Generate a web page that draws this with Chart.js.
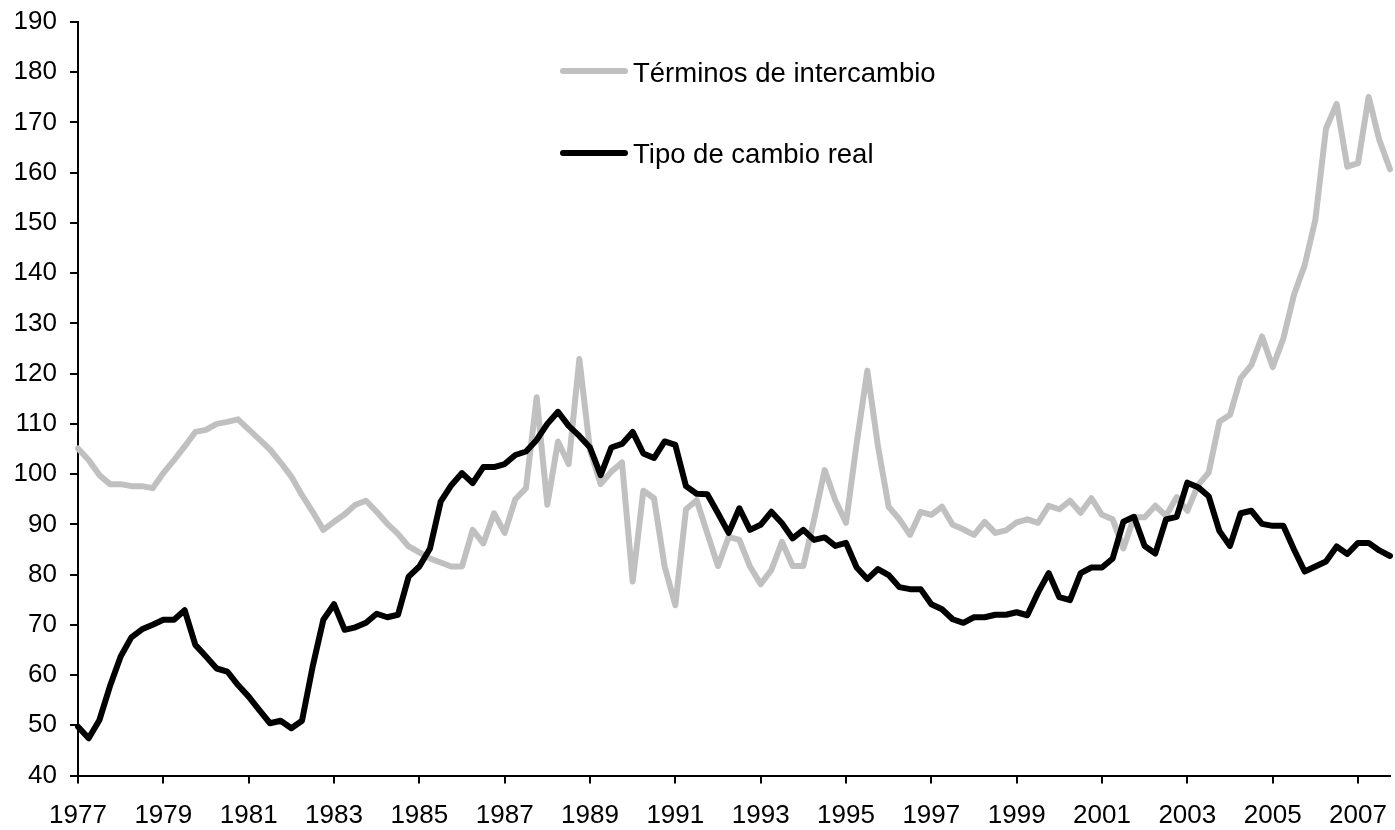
<!DOCTYPE html>
<html lang="es">
<head>
<meta charset="utf-8">
<title>Términos de intercambio y tipo de cambio real</title>
<script src="https://cdn.jsdelivr.net/npm/chart.js@4.4.1/dist/chart.umd.min.js"></script>
<style>
    html, body { margin: 0; padding: 0; background: #fff; }
    #wrap { position: relative; width: 1395px; height: 830px; }
    #chart { position: absolute; left: 0; top: 0; }
    .legend-item { position: absolute; left: 560px; height: 27px; font-family: "Liberation Sans", Arial, sans-serif; font-size: 27.5px; line-height: 27px; color: #000; white-space: nowrap; }
    .legend-line { position: absolute; left: 0; width: 68px; height: 6px; border-radius: 3px; }
    .legend-text { position: absolute; left: 73px; top: 0; }
</style>
</head>
<body>
<div id="wrap">
    <canvas id="chart" width="1395" height="830"></canvas>
    <div class="legend-item" style="top:59px"><span class="legend-line" style="background:#c0c0c0;top:9px"></span><span class="legend-text">Términos de intercambio</span></div>
    <div class="legend-item" style="top:140px"><span class="legend-line" style="background:#000;top:10px"></span><span class="legend-text">Tipo de cambio real</span></div>
</div>
<script>
/* ============================
   Datos (trimestrales 1977T1 - 2007T4)
============================ */
const START_YEAR = 1977
const QUARTERS = 124
const YEAR_LABEL_STEP = 8   // una etiqueta cada 2 años

const TERMS_OF_TRADE = [
    105.1, 102.8, 99.8, 98.0, 98.0, 97.6, 97.6, 97.2,
    100.2, 102.8, 105.5, 108.4, 108.8, 110.0, 110.4, 110.9,
    108.9, 106.9, 104.9, 102.3, 99.5, 95.8, 92.5, 88.9,
    90.5, 92.0, 93.9, 94.7, 92.5, 90.1, 88.1, 85.6,
    84.4, 83.2, 82.4, 81.6, 81.6, 88.9, 86.2, 92.2,
    88.3, 95.0, 97.2, 115.3, 93.9, 106.5, 102.0, 122.9,
    104.8, 98.0, 100.5, 102.3, 78.6, 96.7, 95.2, 81.6,
    73.9, 93.0, 94.8, 88.2, 81.7, 87.5, 86.9, 81.6,
    78.1, 80.9, 86.5, 81.7, 81.7, 90.9, 100.8, 94.8,
    90.3, 106.1, 120.6, 105.5, 93.5, 91.0, 87.9, 92.5,
    91.9, 93.5, 89.9, 89.0, 87.9, 90.5, 88.3, 88.8,
    90.4, 91.0, 90.3, 93.7, 93.0, 94.7, 92.3, 95.2,
    91.9, 91.0, 85.2, 91.4, 91.4, 93.7, 91.7, 95.4,
    92.7, 97.8, 100.3, 110.4, 111.8, 119.1, 121.7, 127.4,
    121.3, 127.0, 135.7, 141.6, 150.6, 168.8, 173.7, 161.2,
    161.9, 175.1, 166.5, 160.7
]

const REAL_EXCHANGE_RATE = [
    49.7, 47.4, 51.0, 57.8, 63.7, 67.5, 69.1, 70.0,
    71.0, 71.0, 72.9, 66.0, 63.7, 61.3, 60.7, 58.0,
    55.7, 53.0, 50.4, 50.9, 49.4, 50.9, 61.7, 71.0,
    74.1, 69.0, 69.5, 70.4, 72.2, 71.5, 72.0, 79.6,
    81.6, 85.2, 94.5, 97.8, 100.2, 98.2, 101.4, 101.4,
    102.0, 103.8, 104.5, 106.8, 110.0, 112.4, 109.6, 107.6,
    105.3, 99.8, 105.3, 106.0, 108.4, 104.1, 103.2, 106.5,
    105.8, 97.6, 96.1, 96.0, 92.2, 88.3, 93.2, 88.9,
    89.9, 92.5, 90.2, 87.2, 88.9, 86.9, 87.4, 85.7,
    86.3, 81.4, 79.1, 81.1, 79.9, 77.5, 77.1, 77.1,
    74.1, 73.1, 71.1, 70.4, 71.5, 71.5, 72.0, 72.0,
    72.5, 71.9, 76.4, 80.3, 75.5, 74.9, 80.3, 81.4,
    81.4, 83.2, 90.5, 91.5, 85.7, 84.2, 91.0, 91.5,
    98.3, 97.4, 95.6, 88.7, 85.7, 92.2, 92.7, 90.1,
    89.7, 89.7, 85.0, 80.6, 81.6, 82.6, 85.6, 84.1,
    86.3, 86.3, 84.8, 83.7
]

const Y_MIN = 40
const Y_MAX = 190
const Y_STEP = 10

// etiquetas de trimestre: "1977", "1977T2", ...
const QUARTER_LABELS = Array.from({ length: QUARTERS }, (_, i) => {
    const year = START_YEAR + Math.floor(i / 4)
    const q = i % 4
    return q === 0 ? `${year}` : `${year}T${q + 1}`
})

const FONT_FAMILY = '"Liberation Sans", Arial, sans-serif'

// ============================
// Chart
// ============================
const ctx = document.getElementById('chart').getContext('2d')
new Chart(ctx, {
    type: 'line',
    data: {
        labels: QUARTER_LABELS,
        datasets: [
            {
                label: 'Términos de intercambio',
                data: TERMS_OF_TRADE,
                borderColor: '#c0c0c0',
                borderWidth: 6,
                pointRadius: 0,
                tension: 0,
                borderJoinStyle: 'round',
                borderCapStyle: 'round',
                order: 1
            },
            {
                label: 'Tipo de cambio real',
                data: REAL_EXCHANGE_RATE,
                borderColor: '#000000',
                borderWidth: 6,
                pointRadius: 0,
                tension: 0,
                borderJoinStyle: 'round',
                borderCapStyle: 'round',
                order: 0
            }
        ]
    },
    options: {
        responsive: false,
        animation: false,
        devicePixelRatio: 1,
        layout: { padding: { left: 0, right: 5, top: 22, bottom: 0 } },
        plugins: {
            legend: { display: false },
            tooltip: { enabled: false }
        },
        scales: {
            x: {
                type: 'category',
                offset: false,
                grid: {
                    drawOnChartArea: false,
                    drawTicks: true,
                    tickLength: 8,
                    lineWidth: 2,
                    color: c => (c.index % YEAR_LABEL_STEP === 0 ? '#000' : 'rgba(0,0,0,0)')
                },
                border: { display: true, color: '#000', width: 2 },
                ticks: {
                    autoSkip: false,
                    maxRotation: 0,
                    minRotation: 0,
                    padding: 17,
                    color: '#000',
                    font: { family: FONT_FAMILY, size: 26 },
                    callback: (v, i) => (i % YEAR_LABEL_STEP === 0 ? QUARTER_LABELS[i] : '')
                },
                afterFit: s => {
                    s.height = 54.5
                    s.paddingLeft = 0
                    s.paddingRight = 0
                }
            },
            y: {
                min: Y_MIN,
                max: Y_MAX,
                grid: {
                    drawOnChartArea: false,
                    drawTicks: true,
                    tickLength: 8,
                    lineWidth: 2,
                    color: '#000'
                },
                border: { display: true, color: '#000', width: 2 },
                ticks: {
                    stepSize: Y_STEP,
                    padding: 13,
                    color: '#000',
                    font: { family: FONT_FAMILY, size: 26 }
                },
                afterFit: s => {
                    s.width = 78
                    s.paddingTop = 0
                    s.paddingBottom = 0
                }
            }
        }
    }
})
</script>
</body>
</html>
